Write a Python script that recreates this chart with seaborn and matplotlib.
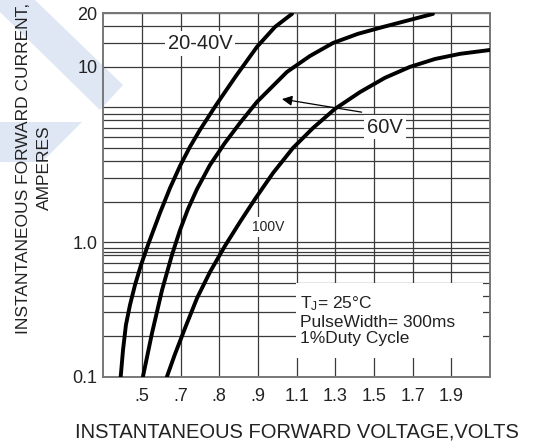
import numpy as np
import pandas as pd
import matplotlib
matplotlib.use("Agg")
from matplotlib import pyplot as plt
from matplotlib.patches import Polygon, Rectangle
from matplotlib.ticker import FixedLocator, NullFormatter
import seaborn as sns

# Forward characteristic curves (volts vs amperes)
volts_20_40 = [0.19, 0.202, 0.217, 0.238, 0.264, 0.295, 0.331, 0.393, 0.445, 0.497, 0.548,
               0.600, 0.683, 0.786, 0.895, 0.988, 1.076]
amps_20_40 = [0.10, 0.158, 0.242, 0.341, 0.480, 0.676, 0.951, 1.645, 2.52, 3.68, 5.09,
              6.81, 10.4, 17.1, 28.2, 39.6, 49.5]

volts_60 = [0.305, 0.352, 0.404, 0.455, 0.497, 0.538, 0.585, 0.652, 0.729, 0.807, 0.895,
            1.050, 1.169, 1.288, 1.417, 1.547, 1.805]
amps_60 = [0.10, 0.211, 0.441, 0.802, 1.23, 1.76, 2.48, 3.74, 5.45, 7.67, 11.0,
           18.35, 24.1, 30.1, 35.2, 39.6, 49.5]

volts_100 = [0.429, 0.471, 0.523, 0.585, 0.652, 0.729, 0.807, 0.885, 0.978, 1.081, 1.185,
             1.298, 1.428, 1.557, 1.686, 1.816, 1.945, 2.10]
amps_100 = [0.10, 0.1475, 0.230, 0.384, 0.600, 0.935, 1.41, 2.09, 3.26, 5.00, 7.04,
            9.75, 13.0, 16.6, 20.0, 22.9, 25.0, 26.7]

# Axis ticks as printed on the datasheet
x_ticks = [0.3, 0.5, 0.7, 0.9, 1.1, 1.3, 1.5, 1.7, 1.9]
x_tick_labels = [".5", ".7", ".8", ".9", "1.1", "1.3", "1.5", "1.7", "1.9"]
y_ticks = [0.1, 1.0, 20, 50]
y_tick_labels = ["0.1", "1.0", "10", "20"]
y_grid = [0.2, 0.3, 0.4, 0.5, 0.6, 0.7, 0.8, 0.85, 0.9,
          2, 3, 4, 5, 6, 7, 8, 9, 10, 30, 40]

sns.set_theme(style="white")
plt.rcParams['font.family'] = ['Liberation Sans', 'DejaVu Sans']
plt.rcParams['mathtext.fontset'] = 'custom'
plt.rcParams['mathtext.rm'] = 'Liberation Sans'
plt.rcParams['mathtext.it'] = 'Liberation Sans'

df = pd.concat([
    pd.DataFrame({'V': volts_20_40, 'I': amps_20_40, 'series': '20-40V'}),
    pd.DataFrame({'V': volts_60, 'I': amps_60, 'series': '60V'}),
    pd.DataFrame({'V': volts_100, 'I': amps_100, 'series': '100V'}),
])

W, H = 542, 445
fig = plt.figure(figsize=(W / 100, H / 100), dpi=100)
ax = fig.add_axes([103.3 / W, (H - 376.7) / H, 386.7 / W, 363.4 / H])
ax.set_facecolor('none')

# light watermark shapes behind everything
wm = '#dfe6f4'
for pts in ([(35, 0), (123, 85), (100, 110), (0, 12), (0, 0)],
            [(0, 122), (82, 122), (42, 162), (0, 162)]):
    fig.add_artist(Polygon([(x / W, 1 - y / H) for x, y in pts], closed=True,
                           facecolor=wm, edgecolor='none', zorder=-5,
                           transform=fig.transFigure))

ax.set_yscale('log')
ax.set_xlim(0.1, 2.1)
ax.set_ylim(0.1, 50)

ax.set_xticks(x_ticks, x_tick_labels)
ax.set_yticks(y_ticks, y_tick_labels)
ax.yaxis.set_minor_locator(FixedLocator(y_grid))
ax.yaxis.set_minor_formatter(NullFormatter())
ax.tick_params(which='both', length=0, labelsize=13, colors='#222222')
ax.tick_params(axis='x', pad=8)
ax.tick_params(axis='y', pad=4)
ax.grid(True, which='both', color='#3a3a3a', linewidth=0.9)
ax.set_axisbelow(True)
for sp in ax.spines.values():
    sp.set_color('#777777')
    sp.set_linewidth(1.4)

sns.lineplot(data=df, x='V', y='I', hue='series', palette=['black'] * 3,
             estimator=None, sort=False, legend=False, linewidth=2.8, ax=ax, zorder=4)
ax.set_xlabel('')
ax.set_ylabel('')

# white box behind the test conditions
ax.add_patch(Rectangle((0.498, 0.052), 0.484, 0.206, transform=ax.transAxes,
                       facecolor='white', edgecolor='none', zorder=3))
ax.text(0.508, 0.226, "T$_\\mathregular{J}$= 25°C\nPulseWidth= 300ms\n1%Duty Cycle",
        transform=ax.transAxes, ha='left', va='top', fontsize=12.5,
        linespacing=1.12, color='#222222', zorder=5)

box = dict(facecolor='white', edgecolor='none', pad=2)
ax.text(0.250, 0.917, "20-40V", transform=ax.transAxes, ha='center', va='center',
        fontsize=14.5, color='#222222', bbox=box, zorder=5)
ax.text(0.728, 0.687, "60V", transform=ax.transAxes, ha='center', va='center',
        fontsize=14.5, color='#222222', bbox=box, zorder=5)
ax.text(0.426, 0.412, "100V", transform=ax.transAxes, ha='center', va='center',
        fontsize=10, color='#222222', bbox=box, zorder=5)
ax.annotate("", xy=(0.462, 0.764), xytext=(0.668, 0.728),
            xycoords='axes fraction', textcoords='axes fraction',
            arrowprops=dict(arrowstyle='-|>', color='black', lw=0.9,
                            mutation_scale=15, shrinkA=0, shrinkB=0), zorder=5)

fig.text(297 / W, 1 - 432 / H, "INSTANTANEOUS FORWARD VOLTAGE,VOLTS",
         ha='center', va='center', fontsize=14.5, color='#222222')
fig.text(34 / W, 1 - 168 / H, "INSTANTANEOUS FORWARD CURRENT,\nAMPERES",
         ha='center', va='center', rotation=90, fontsize=12.5, linespacing=1.55,
         multialignment='center', color='#222222')

fig.savefig('out.png', dpi=100)
